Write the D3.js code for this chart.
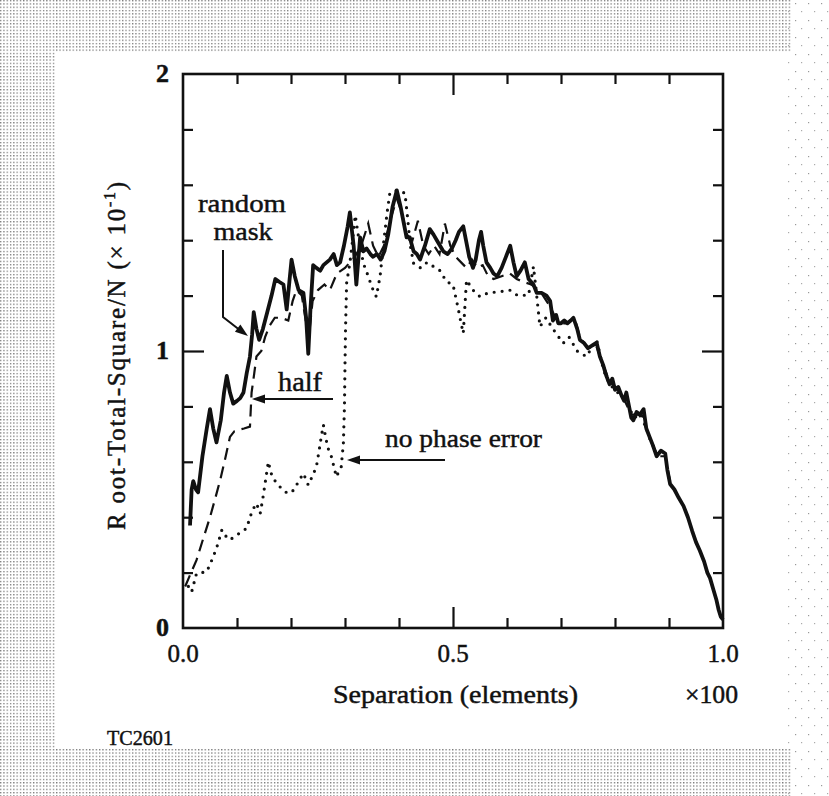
<!DOCTYPE html>
<html>
<head>
<meta charset="utf-8">
<script src="https://cdn.jsdelivr.net/npm/d3@7/dist/d3.min.js"></script>
<style>
  html, body { margin: 0; padding: 0; background: #fff; }
  svg { display: block; }
  text { font-family: "Times New Roman", "Liberation Serif", Times, serif; fill: #111; stroke: #111; stroke-width: 0.45px; }
</style>
</head>
<body>
<svg id="chart" width="829" height="796"></svg>
<script>
// ---------------- data ----------------
const xTicks = [0, 0.1, 0.2, 0.3, 0.4, 0.5, 0.6, 0.7, 0.8, 0.9, 1.0];
const xTickLabels = ["0.0", "", "", "", "", "0.5", "", "", "", "", "1.0"];
const yTicks = [0, 0.2, 0.4, 0.6, 0.8, 1.0, 1.2, 1.4, 1.6, 1.8, 2.0];
const yTickLabels = ["0", "", "", "", "", "1", "", "", "", "", "2"];

// random mask (solid)
const randomMask = [
  [0.013,0.37],[0.016,0.50],[0.019,0.53],[0.024,0.50],[0.028,0.49],[0.036,0.62],[0.044,0.72],[0.050,0.79],
  [0.056,0.72],[0.062,0.67],[0.070,0.75],[0.076,0.85],[0.081,0.91],[0.087,0.85],[0.093,0.81],[0.100,0.82],
  [0.106,0.83],[0.112,0.85],[0.118,0.92],[0.124,0.98],[0.128,1.06],[0.131,1.14],[0.136,1.08],[0.141,1.04],
  [0.148,1.08],[0.156,1.14],[0.164,1.20],[0.171,1.26],[0.178,1.25],[0.186,1.24],[0.192,1.15],[0.197,1.25],
  [0.201,1.33],[0.207,1.27],[0.214,1.22],[0.223,1.21],[0.228,1.12],[0.232,0.99],[0.236,1.15],[0.241,1.31],
  [0.247,1.30],[0.254,1.29],[0.260,1.31],[0.266,1.32],[0.272,1.33],[0.279,1.35],[0.285,1.31],[0.291,1.32],
  [0.298,1.38],[0.305,1.45],[0.309,1.50],[0.316,1.38],[0.321,1.24],[0.328,1.41],[0.334,1.36],[0.340,1.37],
  [0.347,1.35],[0.352,1.34],[0.359,1.35],[0.366,1.33],[0.373,1.36],[0.380,1.42],[0.388,1.52],[0.396,1.58],
  [0.403,1.52],[0.409,1.46],[0.414,1.41],[0.420,1.41],[0.427,1.36],[0.433,1.35],[0.439,1.33],[0.448,1.38],
  [0.457,1.44],[0.464,1.42],[0.470,1.40],[0.476,1.38],[0.482,1.36],[0.490,1.35],[0.498,1.37],[0.505,1.40],
  [0.511,1.43],[0.519,1.45],[0.524,1.40],[0.530,1.34],[0.537,1.30],[0.542,1.33],[0.548,1.40],[0.552,1.43],
  [0.556,1.38],[0.562,1.32],[0.569,1.30],[0.575,1.28],[0.582,1.27],[0.590,1.30],[0.598,1.34],[0.606,1.38],
  [0.612,1.32],[0.618,1.27],[0.625,1.29],[0.633,1.32],[0.640,1.26],[0.649,1.24],[0.655,1.21],[0.664,1.21],
  [0.673,1.20],[0.680,1.18],[0.685,1.11],[0.691,1.13],[0.695,1.10],[0.700,1.10],[0.706,1.11],[0.712,1.10],
  [0.718,1.11],[0.723,1.12],[0.730,1.08],[0.735,1.04],[0.742,1.03],[0.750,1.01],[0.758,1.02],[0.766,1.03],
  [0.772,0.98],[0.778,0.95],[0.784,0.91],[0.790,0.88],[0.795,0.90],[0.800,0.86],[0.806,0.87],[0.812,0.84],
  [0.817,0.82],[0.821,0.85],[0.826,0.80],[0.830,0.76],[0.834,0.75],[0.840,0.78],[0.846,0.77],[0.853,0.79],
  [0.858,0.72],[0.864,0.69],[0.870,0.66],[0.877,0.62],[0.885,0.64],[0.893,0.63],[0.897,0.57],[0.902,0.52],
  [0.910,0.50],[0.918,0.47],[0.927,0.44],[0.935,0.40],[0.943,0.35],[0.950,0.31],[0.957,0.28],[0.965,0.24],
  [0.971,0.20],[0.976,0.18],[0.982,0.14],[0.988,0.10],[0.992,0.065],[0.996,0.04],[1.000,0.03]
];

// half (dashed)
const halfMask = [
  [0.004,0.15],[0.015,0.20],[0.025,0.245],[0.037,0.32],[0.050,0.40],[0.060,0.47],[0.069,0.535],[0.078,0.61],
  [0.087,0.69],[0.095,0.71],[0.102,0.715],[0.113,0.72],[0.124,0.727],[0.127,0.85],[0.132,0.92],[0.136,0.98],
  [0.145,1.00],[0.152,1.05],[0.160,1.09],[0.170,1.12],[0.182,1.12],[0.195,1.11],[0.203,1.18],[0.210,1.22],
  [0.220,1.20],[0.228,1.10],[0.233,1.05],[0.240,1.18],[0.250,1.22],[0.262,1.24],[0.272,1.22],[0.285,1.28],
  [0.300,1.30],[0.309,1.32],[0.318,1.34],[0.330,1.38],[0.343,1.46],[0.352,1.38],[0.362,1.34],[0.372,1.38],
  [0.385,1.48],[0.396,1.55],[0.405,1.50],[0.415,1.42],[0.425,1.40],[0.435,1.47],[0.445,1.38],[0.455,1.35],
  [0.465,1.38],[0.475,1.35],[0.485,1.46],[0.495,1.38],[0.505,1.34],[0.515,1.32],[0.525,1.30],[0.535,1.33],
  [0.545,1.30],[0.555,1.31],[0.565,1.27],[0.575,1.26],[0.590,1.27],[0.605,1.28],[0.618,1.26],[0.630,1.25],
  [0.645,1.24],[0.660,1.22],[0.670,1.19],[0.680,1.16],[0.690,1.12],[0.700,1.10],[0.712,1.10],[0.725,1.12],
  [0.735,1.05],[0.750,1.01],[0.765,1.02],[0.778,0.95],[0.790,0.89],[0.805,0.86],[0.818,0.82],[0.830,0.77],
  [0.845,0.77],[0.858,0.72],[0.870,0.66],[0.880,0.62],[0.893,0.62],[0.902,0.53]
];

// no phase error (dotted)
const noPhaseError = [
  [0.010,0.15],[0.016,0.13],[0.025,0.197],[0.035,0.20],[0.044,0.203],[0.050,0.23],[0.056,0.257],[0.064,0.30],
  [0.072,0.354],[0.080,0.33],[0.087,0.318],[0.095,0.33],[0.103,0.34],[0.110,0.35],[0.118,0.36],[0.124,0.40],
  [0.130,0.43],[0.136,0.45],[0.143,0.414],[0.148,0.47],[0.152,0.522],[0.158,0.60],[0.163,0.56],[0.167,0.54],
  [0.175,0.52],[0.184,0.50],[0.191,0.49],[0.198,0.486],[0.206,0.50],[0.214,0.53],[0.223,0.558],[0.232,0.516],
  [0.240,0.55],[0.247,0.582],[0.252,0.64],[0.256,0.69],[0.260,0.733],[0.265,0.68],[0.270,0.64],[0.275,0.618],
  [0.284,0.546],[0.290,0.57],[0.293,0.582],[0.297,0.667],[0.299,0.80],[0.300,0.95],[0.301,1.08],[0.303,1.245],
  [0.309,1.317],[0.314,1.40],[0.319,1.49],[0.326,1.40],[0.334,1.317],[0.343,1.27],[0.350,1.23],[0.358,1.196],
  [0.365,1.27],[0.372,1.40],[0.378,1.50],[0.383,1.57],[0.396,1.58],[0.411,1.57],[0.416,1.48],[0.421,1.38],
  [0.427,1.317],[0.440,1.30],[0.452,1.32],[0.464,1.305],[0.476,1.29],[0.488,1.25],[0.500,1.24],[0.510,1.15],
  [0.515,1.10],[0.519,1.064],[0.525,1.256],[0.537,1.22],[0.550,1.196],[0.565,1.21],[0.587,1.214],[0.605,1.22],
  [0.620,1.20],[0.640,1.202],[0.649,1.305],[0.655,1.20],[0.661,1.088],[0.672,1.12],[0.685,1.08],[0.704,1.028],
  [0.715,1.05],[0.730,1.00],[0.747,0.98],[0.766,1.04],[0.779,0.93],[0.790,0.88],[0.805,0.85],[0.820,0.82],
  [0.835,0.76],[0.850,0.77],[0.865,0.68],[0.880,0.62]
];

// ---------------- layout ----------------
const svg = d3.select("#chart");
const plot = { left: 183, right: 723, top: 74, bottom: 628 };
const x = d3.scaleLinear().domain([0, 1]).range([plot.left, plot.right]);
const y = d3.scaleLinear().domain([0, 2]).range([plot.bottom, plot.top]);

// stipple background
const defs = svg.append("defs");
const pat = defs.append("pattern").attr("id", "stip").attr("patternUnits", "userSpaceOnUse")
  .attr("width", 3.3).attr("height", 3.3);
pat.append("rect").attr("width", 1.3).attr("height", 1.3).attr("fill", "#777");
const pat2 = defs.append("pattern").attr("id", "stip2").attr("patternUnits", "userSpaceOnUse")
  .attr("width", 13).attr("height", 17);
pat2.append("rect").attr("x", 2).attr("y", 3).attr("width", 1.2).attr("height", 1.2).attr("fill", "#999");
pat2.append("rect").attr("x", 8).attr("y", 11).attr("width", 1.2).attr("height", 1.2).attr("fill", "#aaa");

svg.append("rect").attr("x", 0).attr("y", 0).attr("width", 829).attr("height", 796).attr("fill", "#fff");
svg.append("rect").attr("x", 0).attr("y", 0).attr("width", 792).attr("height", 52).attr("fill", "url(#stip)");
svg.append("rect").attr("x", 0).attr("y", 52).attr("width", 55).attr("height", 696).attr("fill", "url(#stip)");
svg.append("rect").attr("x", 0).attr("y", 748).attr("width", 792).attr("height", 48).attr("fill", "url(#stip)");
svg.append("rect").attr("x", 786).attr("y", 0).attr("width", 43).attr("height", 796).attr("fill", "url(#stip2)");

// ---------------- axes ----------------
const minorLen = 10, majorLen = 21;
function styleAxis(g, majorSet, isX) {
  g.select(".domain").remove();
  g.selectAll(".tick line").attr("stroke", "#111").attr("stroke-width", 2.2);
  g.selectAll(".tick").each(function(d) {
    if (majorSet(d)) {
      const ln = d3.select(this).select("line");
      if (isX) ln.attr("y2", +ln.attr("y2") > 0 ? majorLen : -majorLen);
      else ln.attr("x2", +ln.attr("x2") > 0 ? majorLen : -majorLen);
    }
  });
}
const isMajorX = d => Math.abs(d - 0.5) < 1e-6;
const isMajorY = d => Math.abs(d - 1) < 1e-6;
const innerX = xTicks.filter(d => d > 0 && d < 1);
const innerY = yTicks.filter(d => d > 0 && d < 2);

const gB = svg.append("g").attr("transform", `translate(0,${plot.bottom})`)
  .call(d3.axisBottom(x).tickValues(innerX).tickSize(-minorLen).tickSizeOuter(0).tickFormat(""));
styleAxis(gB, isMajorX, true);
const gT = svg.append("g").attr("transform", `translate(0,${plot.top})`)
  .call(d3.axisTop(x).tickValues(innerX).tickSize(-minorLen).tickSizeOuter(0).tickFormat(""));
styleAxis(gT, isMajorX, true);
const gL = svg.append("g").attr("transform", `translate(${plot.left},0)`)
  .call(d3.axisLeft(y).tickValues(innerY).tickSize(-minorLen).tickSizeOuter(0).tickFormat(""));
styleAxis(gL, isMajorY, false);
const gR = svg.append("g").attr("transform", `translate(${plot.right},0)`)
  .call(d3.axisRight(y).tickValues(innerY).tickSize(-minorLen).tickSizeOuter(0).tickFormat(""));
styleAxis(gR, isMajorY, false);

svg.append("rect").attr("x", plot.left).attr("y", plot.top)
  .attr("width", plot.right - plot.left).attr("height", plot.bottom - plot.top)
  .attr("fill", "none").attr("stroke", "#111").attr("stroke-width", 2.6);

// tick labels
svg.append("g").selectAll("text").data(xTicks.map((d, i) => ({ v: d, t: xTickLabels[i] })).filter(d => d.t))
  .join("text")
  .attr("x", d => x(d.v)).attr("y", 662)
  .attr("text-anchor", "middle").attr("font-size", 25)
  .text(d => d.t);
svg.append("g").selectAll("text").data(yTicks.map((d, i) => ({ v: d, t: yTickLabels[i] })).filter(d => d.t))
  .join("text")
  .attr("x", 169).attr("y", d => y(d.v) + 8)
  .attr("text-anchor", "end").attr("font-size", 26).attr("font-weight", "bold")
  .text(d => d.t);

// axis titles
svg.append("text").attr("x", 333).attr("y", 703).attr("font-size", 25)
  .attr("textLength", 245).attr("lengthAdjust", "spacingAndGlyphs").text("Separation (elements)");
svg.append("text").attr("x", 685).attr("y", 703).attr("font-size", 25)
  .attr("textLength", 53).attr("lengthAdjust", "spacingAndGlyphs").text("×100");
svg.append("text").attr("x", 107).attr("y", 745).attr("font-size", 21)
  .attr("textLength", 66).attr("lengthAdjust", "spacingAndGlyphs").text("TC2601");

const yTitle = svg.append("text")
  .attr("transform", "translate(125,355) rotate(-90)")
  .attr("text-anchor", "middle").attr("font-size", 25);
yTitle.append("tspan").text("R oot-Total-Square/N (× 10");
yTitle.append("tspan").attr("font-size", 16).attr("dy", -10).text("-1");
yTitle.append("tspan").attr("dy", 10).text(")");
{
  const target = 350;
  const len = yTitle.node().getComputedTextLength();
  const nChars = yTitle.text().length;
  if (len < target) yTitle.attr("letter-spacing", ((target - len) / nChars).toFixed(2));
}

// ---------------- series ----------------
const line = d3.line().x(d => x(d[0])).y(d => y(d[1]));
svg.append("path").datum(noPhaseError).attr("d", line)
  .attr("fill", "none").attr("stroke", "#111").attr("stroke-width", 3.2)
  .attr("stroke-linecap", "round").attr("stroke-dasharray", "0,8");
svg.append("path").datum(halfMask).attr("d", line)
  .attr("fill", "none").attr("stroke", "#111").attr("stroke-width", 2.2)
  .attr("stroke-dasharray", "12,7");
svg.append("path").datum(randomMask).attr("d", line)
  .attr("fill", "none").attr("stroke", "#111").attr("stroke-width", 3.8)
  .attr("stroke-linejoin", "round");

// ---------------- annotations ----------------
function arrowHead(x1, y1, x2, y2) {
  const ang = Math.atan2(y2 - y1, x2 - x1);
  const L = 13, W = 4.5;
  const bx = x2 - L * Math.cos(ang), by = y2 - L * Math.sin(ang);
  const px = -Math.sin(ang) * W, py = Math.cos(ang) * W;
  svg.append("path")
    .attr("d", `M${x2},${y2}L${bx + px},${by + py}L${bx - px},${by - py}Z`)
    .attr("fill", "#111");
}
svg.append("text").attr("x", 242).attr("y", 212).attr("text-anchor", "middle").attr("font-size", 26)
  .attr("textLength", 88).attr("lengthAdjust", "spacingAndGlyphs").text("random");
svg.append("text").attr("x", 243).attr("y", 240).attr("text-anchor", "middle").attr("font-size", 26)
  .attr("textLength", 59).attr("lengthAdjust", "spacingAndGlyphs").text("mask");
svg.append("path").attr("d", "M223,250L223,317L241,331").attr("fill", "none")
  .attr("stroke", "#111").attr("stroke-width", 2);
arrowHead(223, 317, 248, 336);

svg.append("text").attr("x", 300).attr("y", 391).attr("text-anchor", "middle").attr("font-size", 27)
  .attr("textLength", 44).attr("lengthAdjust", "spacingAndGlyphs").text("half");
svg.append("line").attr("x1", 333).attr("y1", 399).attr("x2", 262).attr("y2", 399)
  .attr("stroke", "#111").attr("stroke-width", 2.2);
arrowHead(333, 399, 252, 399);

svg.append("text").attr("x", 385).attr("y", 447).attr("font-size", 26)
  .attr("textLength", 157).attr("lengthAdjust", "spacingAndGlyphs").text("no phase error");
svg.append("line").attr("x1", 445).attr("y1", 460).attr("x2", 357).attr("y2", 460)
  .attr("stroke", "#111").attr("stroke-width", 2.2);
arrowHead(445, 460, 347, 460);
</script>
</body>
</html>
